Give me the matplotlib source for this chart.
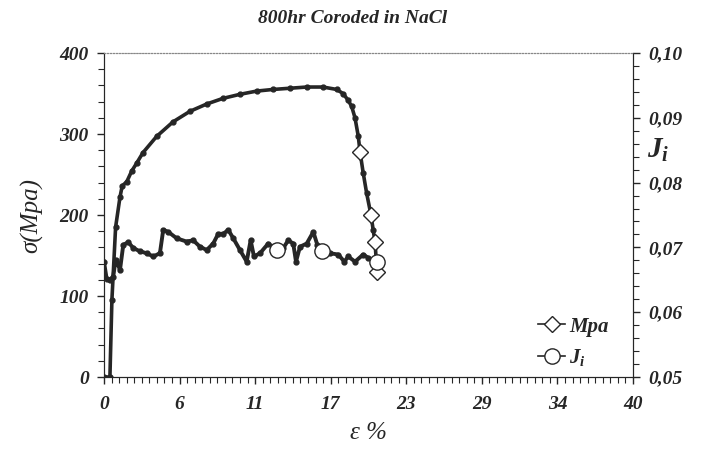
import numpy as np
import matplotlib.pyplot as plt
from matplotlib.ticker import MultipleLocator, FuncFormatter

# stress-strain curve (left axis, MPa)
strain = [0.0, 0.45, 0.6, 0.88, 1.21, 1.38, 1.72, 2.09, 2.47, 2.95, 3.98, 5.22,
          6.50, 7.76, 9.0, 10.28, 11.55, 12.78, 14.06, 15.33, 16.56, 17.6,
          18.07, 18.45, 18.73, 18.98, 19.23, 19.36, 19.6, 19.86, 20.19, 20.36,
          20.49, 20.65]
stress = [0, 0, 95, 185, 222, 236, 241, 254, 264, 277, 297, 315,
          328, 337, 344, 349, 353, 355, 356.5, 358, 358, 355,
          350, 342, 334, 320, 297, 278, 252, 227, 200, 181,
          167, 130]
stress_open = [27, 30, 32, 33]  # points drawn with big open diamonds

# J_i curve (right axis)
strain_j = [0.0, 0.2, 0.45, 0.7, 0.88, 1.04, 1.21, 1.46, 1.84, 2.22, 2.72, 3.23,
            3.73, 4.23, 4.48, 4.86, 5.5, 6.25, 6.75, 7.26, 7.77, 8.26, 8.64,
            9.02, 9.4, 9.78, 10.28, 10.79, 11.09, 11.34, 11.8, 12.42, 13.06,
            13.56, 13.93, 14.31, 14.52, 14.82, 15.33, 15.83, 16.13, 16.46,
            17.09, 17.72, 18.17, 18.47, 18.98, 19.6, 19.98, 20.65]
ji = [0.0678, 0.0652, 0.0650, 0.0655, 0.0681, 0.0675, 0.0665, 0.0704, 0.0708,
      0.0699, 0.0694, 0.0691, 0.0686, 0.0691, 0.0727, 0.0724, 0.0714, 0.0709,
      0.0711, 0.0701, 0.0696, 0.0706, 0.0721, 0.0721, 0.0727, 0.0714, 0.0696,
      0.0678, 0.0711, 0.0686, 0.0691, 0.0706, 0.0696, 0.0699, 0.0711, 0.0706,
      0.0678, 0.0701, 0.0706, 0.0724, 0.0704, 0.0694, 0.0691, 0.0689, 0.0678,
      0.0686, 0.0678, 0.0689, 0.0684, 0.0678]
ji_open = [32, 41, 49]

xtick_labels = ["0", "6", "11", "17", "23", "29", "34", "40"]

plt.rcParams["font.family"] = ["Liberation Serif", "DejaVu Serif"]
plt.rcParams["font.weight"] = "bold"
plt.rcParams["font.style"] = "italic"
plt.rcParams["mathtext.fontset"] = "custom"
plt.rcParams["mathtext.it"] = "Liberation Serif:italic:bold"
plt.rcParams["mathtext.rm"] = "Liberation Serif:italic:bold"

ink = "#262626"
fig = plt.figure(figsize=(7.19, 4.55), dpi=100)
ax = fig.add_axes([0.1446, 0.1714, 0.7358, 0.7121])
ax2 = ax.twinx()

ax.plot(strain, stress, color=ink, lw=2.6, marker="o", ms=3.5, mfc=ink, mec=ink, zorder=3)
ax.plot(np.array(strain)[stress_open], np.array(stress)[stress_open], ls="none",
        marker="D", ms=8, mfc="white", mec=ink, mew=1.0, zorder=4)
ax2.plot(strain_j, ji, color=ink, lw=2.8, marker="o", ms=3.5, mfc=ink, mec=ink, zorder=3)
ax2.plot(np.array(strain_j)[ji_open], np.array(ji)[ji_open], ls="none",
         marker="o", ms=11, mfc="white", mec=ink, mew=1.0, zorder=4)

ax.set_xlim(0, 40)
ax.set_ylim(0, 400)
ax2.set_ylim(0.05, 0.10)

ax.set_xticks([40 * i / 7 for i in range(8)])
ax.set_xticklabels(xtick_labels)
ax.xaxis.set_minor_locator(MultipleLocator(40 / 70))
ax.yaxis.set_major_locator(MultipleLocator(100))
ax.yaxis.set_minor_locator(MultipleLocator(20))
ax2.yaxis.set_major_locator(MultipleLocator(0.01))
ax2.yaxis.set_minor_locator(MultipleLocator(0.002))
ax2.yaxis.set_major_formatter(FuncFormatter(lambda v, p: f"{v:.2f}".replace(".", ",")))

for a in (ax, ax2):
    a.tick_params(which="major", direction="out", length=5, width=1, color=ink,
                  labelsize=14, labelcolor=ink)
    a.tick_params(which="minor", direction="out", length=4, width=0.8, color=ink)
    for s in a.spines.values():
        s.set_color(ink)
    a.spines["top"].set_linestyle(":")
    a.spines["top"].set_color("#888888")
ax.tick_params(axis="x", pad=9)
ax.tick_params(axis="y", pad=6)
ax2.tick_params(axis="y", pad=6)

ax.set_xlabel("ε %", fontsize=18, color=ink, labelpad=6)
ax.set_ylabel("σ(Mpa)", fontsize=18, color=ink, labelpad=12)
fig.text(0.915, 0.67, "$J_i$", fontsize=21, color=ink, ha="center", va="center")
fig.text(0.49, 0.96, "800hr Coroded in NaCl", fontsize=14, color=ink,
         ha="center", va="center")

h1 = plt.Line2D([], [], color=ink, lw=1.2, marker="D", ms=8, mfc="white", mec=ink)
h2 = plt.Line2D([], [], color=ink, lw=1.2, marker="o", ms=11, mfc="white", mec=ink)
ax.legend([h1, h2], ["Mpa", "$J_i$"], loc="lower left", bbox_to_anchor=(0.785, -0.03),
          frameon=False, handlelength=1.3, handletextpad=0.2, fontsize=15,
          labelcolor=ink, labelspacing=0.5)

fig.savefig("out.png", dpi=100)
